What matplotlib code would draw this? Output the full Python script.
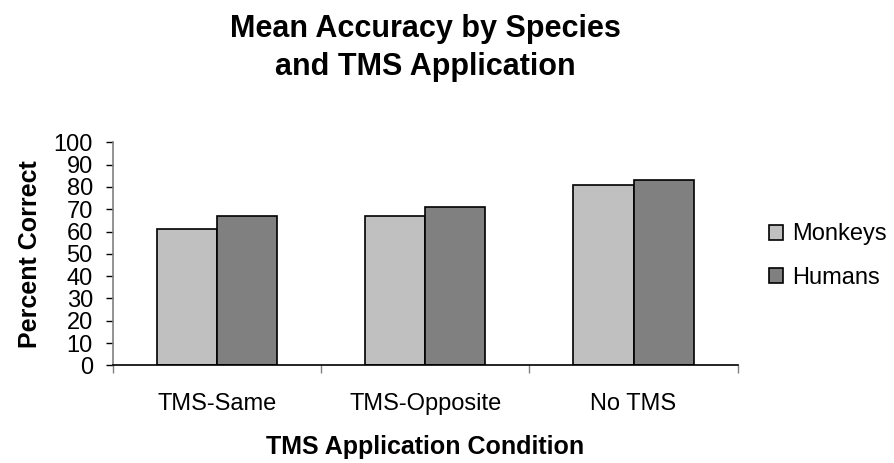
import numpy as np
import matplotlib
matplotlib.use('Agg')
import matplotlib.pyplot as plt
from matplotlib.patches import Patch

conditions = ['TMS-Same', 'TMS-Opposite', 'No TMS']
monkeys = [61, 67, 81]
humans = [67, 71, 83]
yticks = list(range(0, 101, 10))

color_monkeys = '#c0c0c0'
color_humans = '#808080'

plt.rcParams['font.family'] = ['Liberation Sans', 'DejaVu Sans']

fig = plt.figure(figsize=(8.94, 4.63), dpi=100)
ax = fig.add_axes([112.7 / 894, 1 - 365.3 / 463, 625 / 894, 223 / 463])

x = np.arange(len(conditions)) + 0.5
w = 0.289
ax.bar(x - w / 2, monkeys, w, color=color_monkeys, edgecolor='black', linewidth=1.2, label='Monkeys')
ax.bar(x + w / 2, humans, w, color=color_humans, edgecolor='black', linewidth=1.2, label='Humans')

ax.set_xlim(0, len(conditions))
ax.set_ylim(0, 100)
ax.set_yticks(yticks)
ax.set_yticklabels([str(v) for v in yticks], fontsize=17)

# group boundaries as major ticks, category names as minor ticks
ax.set_xticks(np.arange(len(conditions) + 1))
ax.set_xticklabels([])
ax.set_xticks(x, minor=True)
ax.set_xticklabels(conditions, minor=True, fontsize=17)
ax.tick_params(axis='x', which='major', direction='out', length=6, width=1, color='#808080')
ax.tick_params(axis='x', which='minor', length=0, pad=20)
ax.tick_params(axis='y', direction='out', length=5.3, width=1, color='black', pad=9)

for s in ['top', 'right']:
    ax.spines[s].set_visible(False)
ax.spines['left'].set_color('#808080')
ax.spines['left'].set_linewidth(1.2)
ax.spines['bottom'].set_color('black')
ax.spines['bottom'].set_linewidth(1.2)

ax.set_xlabel('TMS Application Condition', fontsize=18, fontweight='bold', labelpad=14)
ax.set_ylabel('Percent Correct', fontsize=18, fontweight='bold', labelpad=8)

fig.text(425 / 894, 1 - 48 / 463, 'Mean Accuracy by Species\nand TMS Application',
         ha='center', va='center', fontsize=22, fontweight='bold', linespacing=1.32)

handles = [Patch(facecolor=color_monkeys, edgecolor='black', linewidth=1.2),
           Patch(facecolor=color_humans, edgecolor='black', linewidth=1.2)]
fig.legend(handles, ['Monkeys', 'Humans'], loc='center left',
           bbox_to_anchor=(769 / 894, 1 - 256 / 463), frameon=False, fontsize=17,
           handlelength=0.6, handleheight=0.6, handletextpad=0.4, labelspacing=0.9,
           borderpad=0, borderaxespad=0)

fig.savefig('out.png', dpi=100)
